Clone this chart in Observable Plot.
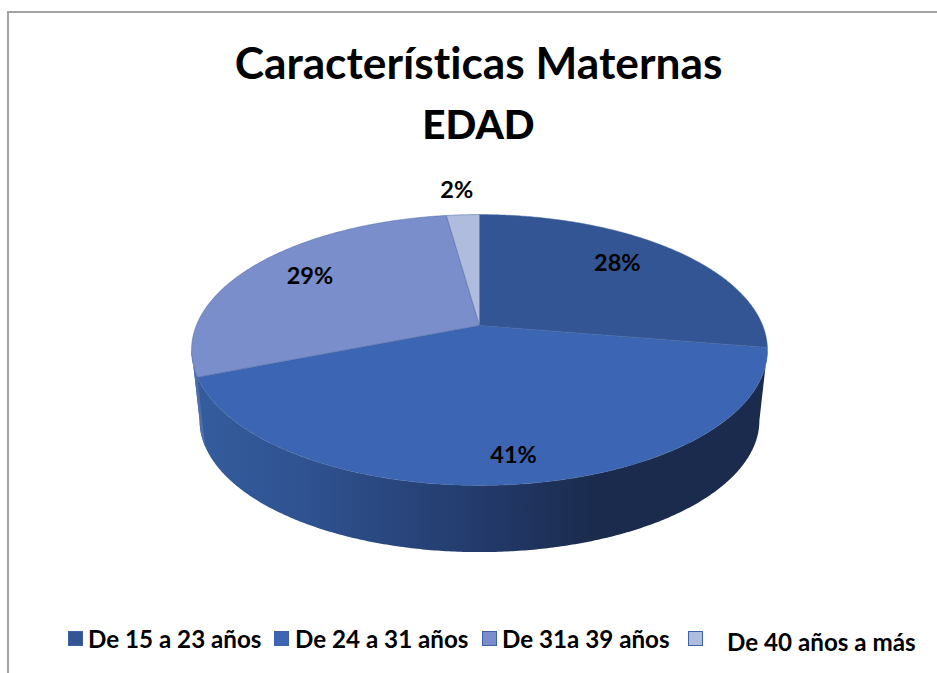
<!DOCTYPE html>
<html lang="es">
<head>
<meta charset="utf-8">
<script src="https://cdn.jsdelivr.net/npm/d3@7"></script>
<script src="https://cdn.jsdelivr.net/npm/@observablehq/plot@0.6"></script>
<style>
  html, body { margin: 0; padding: 0; background: #fff; width: 937px; height: 673px; overflow: hidden; }
  body { position: relative; font-family: Lato, "Open Sans", sans-serif; color: #000; font-variant-ligatures: none; }
  #frame { position: absolute; left: 7px; top: 11px; width: 930px; height: 662px;
           border-left: 2px solid #a3a3a3; border-top: 2px solid #a3a3a3; box-sizing: border-box; }
  #title { position: relative; height: 156px; padding-top: 32px; box-sizing: border-box; text-align: center;
           font-weight: 700; font-size: 44.3px; line-height: 60px; padding-left: 20px; }
  #title b { font-size: 40.5px; }
  #chart { position: relative; height: 444px; }
  #chart svg { display: block; }
  #legend { position: relative; height: 73px; font-weight: 700; font-size: 24.2px; }
  #legend i { position: absolute; width: 13px; height: 13px; border: 1.5px solid #3f62a6; box-sizing: content-box; }
  #legend span { position: absolute; white-space: nowrap; line-height: 26px; }
</style>
</head>
<body>
<div id="frame"></div>
<div id="title">Características Maternas<br><b>EDAD</b></div>
<div id="chart"></div>
<div id="legend"></div>
<script>
// ---- data ----
const categories = ["De 15 a 23 años", "De 24 a 31 años", "De 31a 39 años", "De 40 años a más"];
const shares = [27.6, 41.4, 28.8, 2.2];

// ---- styles ----
const sliceColors = ["#335593", "#3c66b4", "#7a8ecb", "#b0bcdd"];

// ---- pie geometry (unit circle seen in perspective) ----
const tilt = 0.1808, rimScale = 0.972, rimDrop = 0.538, rimCenter = 0.187;
const labelRadius = [0.765, 0.818, 0.774, 1.22];
const labelTurn = [-3.9, -0.8, 1.8, -0.5];
const rad = Math.PI / 180;
function face(theta) {
  const u = Math.sin(theta * rad), v = -Math.cos(theta * rad);
  const s = 1 / (1 - tilt * v);
  return {x: u * s, y: v * s};
}
function rim(theta) {
  const p = face(theta);
  return {x: rimScale * p.x, y: rimCenter + rimDrop + rimScale * (p.y - rimCenter)};
}
const arc = (a, b) => {
  const n = Math.ceil(Math.abs(b - a) * 2);
  return d3.range(n + 1).map(i => a + (b - a) * i / n);
};

const total = d3.sum(shares);
const ends = Array.from(d3.cumsum(shares), c => c / total * 360);
const starts = [0, ...ends.slice(0, -1)];

const slices = categories.flatMap((name, i) => {
  const apex = {x: 0, y: 0, name};
  return [apex, ...arc(starts[i], ends[i]).map(t => ({...face(t), name})), apex];
});
const labels = categories.map((name, i) => {
  const p = face((starts[i] + ends[i]) / 2 + labelTurn[i]);
  return {x: p.x * labelRadius[i], y: p.y * labelRadius[i], text: Math.round(shares[i]) + "%"};
});

// front wall: from the right-most point of the rim round to the left-most one
const sideRight = Math.acos(-tilt) / rad, sideLeft = 360 - sideRight;
const wall = [...arc(sideRight, sideLeft).map(face), ...arc(sideLeft, sideRight).map(rim)];
// the small part of the wall that belongs to the third slice
const wall3 = [...arc(ends[1], sideLeft).map(face), ...arc(sideLeft, ends[1]).map(rim)];

const defs = () => {
  const ns = "http://www.w3.org/2000/svg";
  const d = document.createElementNS(ns, "defs");
  const g = document.createElementNS(ns, "linearGradient");
  g.setAttribute("id", "wallShade");
  [[0, "#355d9e"], [0.2, "#2f5290"], [0.48, "#243c6e"], [0.7, "#1a2b4d"], [1, "#1a2b4d"]].forEach(([o, c]) => {
    const s = document.createElementNS(ns, "stop");
    s.setAttribute("offset", o);
    s.setAttribute("stop-color", c);
    g.appendChild(s);
  });
  d.appendChild(g);
  return d;
};

const plot = Plot.plot({
  width: 937, height: 444,
  marginTop: 0, marginRight: 0, marginBottom: 0, marginLeft: 0,
  x: {domain: [-1, 1], range: [195.8, 762.2], axis: null},
  y: {domain: [-1, 1], range: [38, 300], axis: null},
  color: {domain: categories, range: sliceColors},
  marks: [
    defs,
    Plot.line(wall, {x: "x", y: "y", fill: "url(#wallShade)", stroke: "none"}),
    Plot.line(wall3, {x: "x", y: "y", fill: "#4f6fa9", stroke: "none"}),
    Plot.line(slices, {x: "x", y: "y", z: "name", fill: "name", stroke: "#44659f", strokeWidth: 0.6, strokeOpacity: 0.8}),
    Plot.text(labels, {x: "x", y: "y", text: "text", fontSize: 23.5, fontWeight: 700, fontFamily: "Lato, 'Open Sans', sans-serif", fill: "#000"})
  ]
});
document.getElementById("chart").appendChild(plot);

// ---- legend ----
const swatchLeft = [68, 274, 482, 688], textLeft = [88, 295, 502, 727], swatchTop = [31, 31, 31, 31], textTop = [26, 26, 26, 29];
const legend = document.getElementById("legend");
categories.forEach((name, i) => {
  const sw = document.createElement("i");
  sw.style.cssText = `left:${swatchLeft[i]}px;top:${swatchTop[i]}px;background:${sliceColors[i]}`;
  const t = document.createElement("span");
  t.textContent = name;
  t.style.cssText = `left:${textLeft[i]}px;top:${textTop[i]}px`;
  legend.append(sw, t);
});
</script>
</body>
</html>
